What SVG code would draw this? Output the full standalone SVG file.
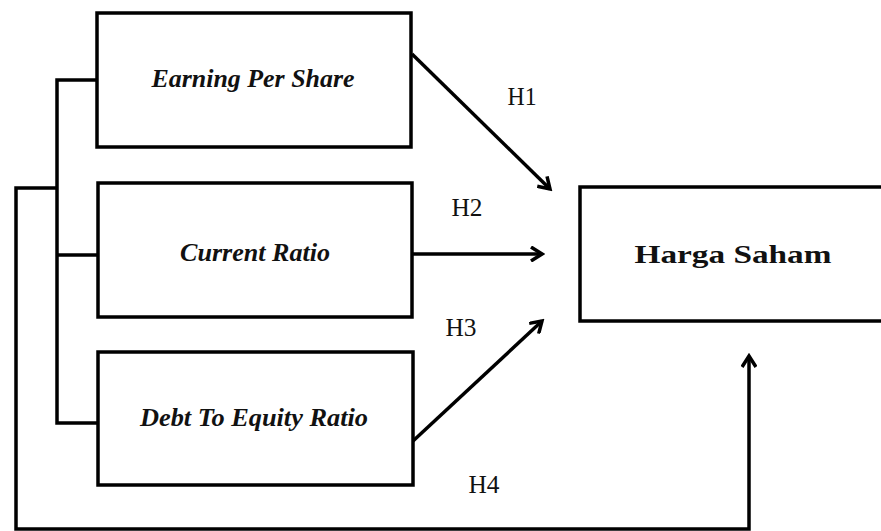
<svg xmlns="http://www.w3.org/2000/svg" width="881" height="531" viewBox="0 0 881 531">
<style>
.box{fill:#fff;stroke:#000;stroke-width:3.5}
.line{fill:none;stroke:#000;stroke-width:3.5}
.lbl{font-family:"Liberation Serif",serif;font-style:italic;font-weight:bold;font-size:25px;text-anchor:middle;fill:#111}
.h{font-family:"Liberation Serif",serif;font-size:25px;text-anchor:middle;fill:#111}
.big{font-family:"Liberation Serif",serif;font-weight:bold;font-size:25px;text-anchor:middle;fill:#111}
</style>
<defs>
<marker id="arr" markerWidth="16" markerHeight="16" refX="13" refY="8" orient="auto" markerUnits="userSpaceOnUse">
<path d="M2,1 L13,8 L2,15" fill="none" stroke="#000" stroke-width="3.5"/>
</marker>
</defs>
<rect width="881" height="531" fill="#fff"/>
<g id="connectors">
<polyline class="line" points="97,80 57,80 57,423 97,423"/>
<line class="line" x1="57" y1="255" x2="97" y2="255"/>
<polyline class="line" points="57,188 16,188 16,529 749,529 749,356" marker-end="url(#arr)"/>
<line class="line" x1="412" y1="54" x2="550" y2="189" marker-end="url(#arr)"/>
<line class="line" x1="412" y1="254" x2="542" y2="254" marker-end="url(#arr)"/>
<line class="line" x1="413" y1="441" x2="542" y2="321" marker-end="url(#arr)"/>
</g>
<g id="eps">
<rect class="box" x="97" y="13" width="314" height="134"/>
<text class="lbl" x="253" y="87" textLength="203" lengthAdjust="spacingAndGlyphs">Earning Per Share</text>
</g>
<g id="cr">
<rect class="box" x="98" y="183" width="314" height="134"/>
<text class="lbl" x="255" y="261" textLength="150" lengthAdjust="spacingAndGlyphs">Current Ratio</text>
</g>
<g id="der">
<rect class="box" x="98" y="352" width="315" height="133"/>
<text class="lbl" x="254" y="426" textLength="228" lengthAdjust="spacingAndGlyphs">Debt To Equity Ratio</text>
</g>
<g id="hs">
<rect class="box" x="580" y="187" width="310" height="134"/>
<text class="big" x="733" y="263" textLength="197" lengthAdjust="spacingAndGlyphs">Harga Saham</text>
</g>
<g id="labels">
<text class="h" x="522" y="105" textLength="29" lengthAdjust="spacingAndGlyphs">H1</text>
<text class="h" x="467" y="216" textLength="31" lengthAdjust="spacingAndGlyphs">H2</text>
<text class="h" x="461" y="336" textLength="31" lengthAdjust="spacingAndGlyphs">H3</text>
<text class="h" x="484" y="493" textLength="31" lengthAdjust="spacingAndGlyphs">H4</text>
</g>
</svg>
